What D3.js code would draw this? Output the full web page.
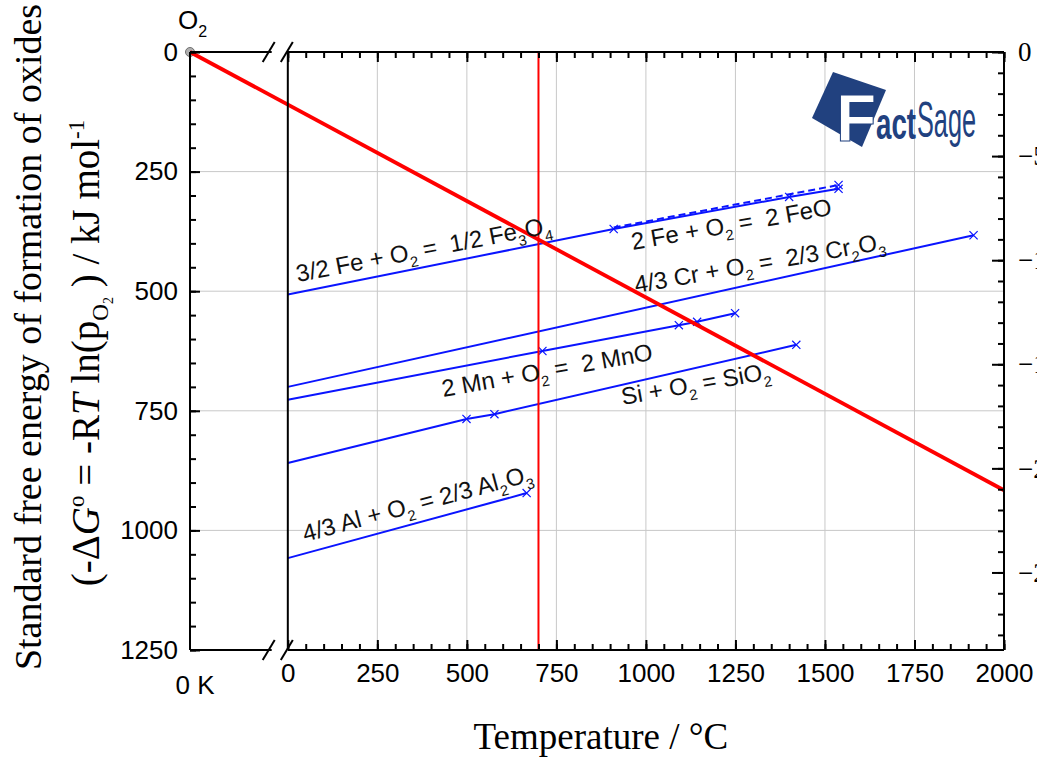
<!DOCTYPE html>
<html>
<head>
<meta charset="utf-8">
<script src="https://cdn.jsdelivr.net/npm/d3@7"></script>
<style>
  html, body { margin: 0; padding: 0; background: #fff; }
  svg { display: block; }
  text { white-space: pre; }
</style>
</head>
<body>
<svg id="chart" width="1037" height="757"></svg>
<script>
// ---------------- data ----------------
const tempTicks = [0, 250, 500, 750, 1000, 1250, 1500, 1750, 2000];
const energyTicks = [0, 250, 500, 750, 1000, 1250];
const pO2Ticks = [0, -5, -10, -15, -20, -25];

// -ΔG° (kJ/mol O2) vs temperature (°C)
const fe3o4T = [0, 910, 1400, 1538];
const fe3o4G = [507, 370, 303, 286];
const feoT = [910, 1538];
const feoG = [367, 278];
const cr2o3T = [0, 1915];
const cr2o3G = [700, 383];
const mnoT = [0, 711, 1092, 1143, 1249];
const mnoG = [727, 625, 571, 564, 546];
const sio2T = [0, 499, 577, 1420];
const sio2G = [859, 767, 757, 612];
const al2o3T = [0, 667];
const al2o3G = [1058, 922];

// oxygen potential line (-RT ln pO2) starting at O2, 0 K
const o2LineT = [-273.15, 2000];
const o2LineG = [0, 916];
const isothermT = 700;

const reactionLabels = [
  "3/2 Fe + O_2 =  1/2 Fe_3O_4",
  "2 Fe + O_2 =  2 FeO",
  "4/3 Cr + O_2 =  2/3 Cr_2O_3",
  "2 Mn + O_2 =  2 MnO",
  "Si + O_2 = SiO_2",
  "4/3 Al + O_2 = 2/3 Al_2O_3"
];
// label anchors in data units (°C, kJ/mol) and rotation
const labelT = [28, 963, 972, 434, 935, 48];
const labelG = [481, 414, 504, 721, 738, 1024];
const labelAngle = [-11, -10, -10, -10, -10, -15];

// ---------------- chart ----------------
const svg = d3.select("#chart");
const R = 8.314e-3;
const TK_right = 2273.15;

const x = d3.scaleLinear().domain([-273.15, 2000]).range([190, 1004]);
const y = d3.scaleLinear().domain([0, 1250]).range([52, 650]);
const yR = d3.scaleLinear().domain([0, -1250 / (R * TK_right * Math.LN10)]).range([52, 650]);

const X0 = x(-273.15), X1 = x(2000), Y0 = y(0), Y1 = y(1250);
const breakT = -45; // end of left frame segment (°C)

const gridColor = "#c8c8c8";
const blue = "#0a14ff";
const sans = "'Liberation Sans', Arial, sans-serif";
const serif = "'Liberation Serif', 'Times New Roman', serif";

// grid
const grid = svg.append("g");
grid.selectAll("line.v").data(tempTicks.filter(t => t > 0 && t < 2000)).join("line")
  .attr("x1", d => x(d)).attr("x2", d => x(d)).attr("y1", Y0).attr("y2", Y1)
  .attr("stroke", gridColor).attr("stroke-width", 1);
grid.selectAll("line.h").data(energyTicks.filter(g => g > 0 && g < 1250)).join("line")
  .attr("x1", X0).attr("x2", X1).attr("y1", d => y(d)).attr("y2", d => y(d))
  .attr("stroke", gridColor).attr("stroke-width", 1);

// reaction lines
const series = [
  { T: fe3o4T, G: fe3o4G, marks: [1, 2, 3], dash: null },
  { T: feoT, G: feoG, marks: [1], dash: "7,4" },
  { T: cr2o3T, G: cr2o3G, marks: [1], dash: null },
  { T: mnoT, G: mnoG, marks: [1, 2, 3, 4], dash: null },
  { T: sio2T, G: sio2G, marks: [1, 2, 3], dash: null },
  { T: al2o3T, G: al2o3G, marks: [1], dash: null }
];
const line = d3.line().x(d => x(d[0])).y(d => y(d[1]));
const sym = d3.symbol().type(d3.symbolX).size(45);
series.forEach(s => {
  const pts = s.T.map((t, i) => [t, s.G[i]]);
  svg.append("path").attr("d", line(pts)).attr("fill", "none")
    .attr("stroke", blue).attr("stroke-width", 2)
    .attr("stroke-dasharray", s.dash);
  svg.selectAll(null).data(s.marks.map(i => pts[i])).join("path")
    .attr("d", sym).attr("transform", d => `translate(${x(d[0])},${y(d[1])})`)
    .attr("fill", "none").attr("stroke", blue).attr("stroke-width", 1.2);
});

// O2 point
svg.append("circle").attr("cx", x(o2LineT[0])).attr("cy", y(o2LineG[0])).attr("r", 4.5)
  .attr("fill", "#b0b0b0").attr("stroke", "#707070").attr("stroke-width", 1);

// red lines
svg.append("line").attr("x1", x(isothermT)).attr("x2", x(isothermT)).attr("y1", Y0).attr("y2", Y1)
  .attr("stroke", "#ff0000").attr("stroke-width", 2);
svg.append("path").attr("d", line(o2LineT.map((t, i) => [t, o2LineG[i]])))
  .attr("stroke", "#ff0000").attr("stroke-width", 3.8).attr("fill", "none");

// frame
const frame = svg.append("g").attr("stroke", "#000").attr("stroke-width", 2).attr("fill", "none");
[[X0, Y0, X0, Y1], [X1, Y0, X1, Y1], [x(0), Y0, x(0), Y1],
 [X0, Y0, x(breakT), Y0], [x(0), Y0, X1, Y0],
 [X0, Y1, x(breakT), Y1], [x(0), Y1, X1, Y1]].forEach(l =>
  frame.append("line").attr("x1", l[0]).attr("y1", l[1]).attr("x2", l[2]).attr("y2", l[3]));
// break marks
[Y0, Y1].forEach(yy => {
  [x(breakT) - 3, x(0) - 1].forEach(xc => {
    frame.append("line").attr("x1", xc - 6).attr("y1", yy + 10).attr("x2", xc + 6).attr("y2", yy - 10);
  });
});

function styleAxis(g) {
  g.select(".domain").remove();
  g.selectAll(".tick line").attr("stroke", "#000").attr("stroke-width", 2);
}

// left axis (energy)
svg.append("g").attr("transform", `translate(${X0},0)`)
  .call(d3.axisLeft(y).tickValues(d3.range(0, 1251, 50)).tickSizeInner(-6).tickSizeOuter(0).tickFormat(""))
  .call(styleAxis);
svg.append("g").attr("transform", `translate(${X0},0)`)
  .call(d3.axisLeft(y).tickValues(energyTicks).tickSizeInner(-10).tickSizeOuter(0).tickPadding(12).tickFormat(d3.format("d")))
  .call(styleAxis)
  .call(g => g.selectAll("text").attr("font-family", sans).attr("font-size", 26).attr("fill", "#000"));

// bottom axis (°C)
svg.append("g").attr("transform", `translate(0,${Y1})`)
  .call(d3.axisBottom(x).tickValues(d3.range(0, 2001, 50)).tickSizeInner(-6).tickSizeOuter(0).tickFormat(""))
  .call(styleAxis);
svg.append("g").attr("transform", `translate(0,${Y1})`)
  .call(d3.axisBottom(x).tickValues(tempTicks).tickSizeInner(-10).tickSizeOuter(0).tickPadding(14).tickFormat(d3.format("d")))
  .call(styleAxis)
  .call(g => g.selectAll("text").attr("font-family", sans).attr("font-size", 26).attr("fill", "#000"));
svg.append("text").attr("x", X0 + 5).attr("y", Y1 + 44).attr("text-anchor", "middle")
  .attr("font-family", sans).attr("font-size", 26).text("0 K");

// top axis
svg.append("g").attr("transform", `translate(0,${Y0})`)
  .call(d3.axisTop(x).tickValues(d3.range(0, 2001, 50)).tickSizeInner(-6).tickSizeOuter(0).tickFormat(""))
  .call(styleAxis);
svg.append("g").attr("transform", `translate(0,${Y0})`)
  .call(d3.axisTop(x).tickValues(tempTicks).tickSizeInner(-10).tickSizeOuter(0).tickFormat(""))
  .call(styleAxis);

// right axis (log pO2 at 2000 °C)
svg.append("g").attr("transform", `translate(${X1},0)`)
  .call(d3.axisRight(yR).tickValues(d3.range(0, -28.5, -1)).tickSizeInner(-6).tickSizeOuter(0).tickFormat(""))
  .call(styleAxis);
svg.append("g").attr("transform", `translate(${X1},0)`)
  .call(d3.axisRight(yR).tickValues(pO2Ticks).tickSizeInner(-12).tickSizeOuter(0).tickPadding(14).tickFormat(d3.format("d")))
  .call(styleAxis)
  .call(g => g.selectAll("text").attr("font-family", serif).attr("font-size", 27).attr("fill", "#000"));

// O2 label
const o2t = svg.append("text").attr("x", X0 - 12).attr("y", Y0 - 23)
  .attr("font-family", sans).attr("font-size", 26);
o2t.append("tspan").text("O");
o2t.append("tspan").attr("dy", 8).attr("font-size", 16).text("2");

// reaction labels with subscripts
function addFormula(txt, tx, ty, ang, size) {
  const t = svg.append("text").attr("font-family", sans).attr("font-size", size).attr("fill", "#111")
    .attr("transform", `translate(${tx},${ty}) rotate(${ang})`);
  const parts = txt.split(/_(\d)/);
  let sub = false;
  parts.forEach((p, i) => {
    if (p === "") return;
    const isSub = i % 2 === 1;
    const ts = t.append("tspan").text(p);
    if (isSub && !sub) { ts.attr("dy", size * 0.3).attr("font-size", size * 0.62); sub = true; }
    else if (isSub) { ts.attr("font-size", size * 0.62); }
    else if (!isSub && sub) { ts.attr("dy", -size * 0.3); sub = false; }
  });
}
reactionLabels.forEach((lab, i) => addFormula(lab, x(labelT[i]), y(labelG[i]), labelAngle[i], 24));

// axis titles
svg.append("text").attr("transform", `translate(41,${(Y0 + Y1) / 2 - 14}) rotate(-90)`)
  .attr("text-anchor", "middle").attr("font-family", serif).attr("font-size", 38)
  .text("Standard free energy of formation of oxides");
const yt2 = svg.append("text").attr("transform", `translate(99,${(Y0 + Y1) / 2 + 2}) rotate(-90)`)
  .attr("text-anchor", "middle").attr("font-family", serif).attr("font-size", 39);
yt2.append("tspan").text("(-Δ");
yt2.append("tspan").attr("font-style", "italic").text("G");
yt2.append("tspan").attr("dy", -15).attr("font-size", 23).text("o");
yt2.append("tspan").attr("dy", 15).text(" = -R");
yt2.append("tspan").attr("font-style", "italic").text("T");
yt2.append("tspan").text(" ln(p");
yt2.append("tspan").attr("dy", 9).attr("font-size", 23).text("O");
yt2.append("tspan").attr("dy", 5).attr("font-size", 14).text("2");
yt2.append("tspan").attr("dy", -14).text(" ) / kJ mol");
yt2.append("tspan").attr("dy", -15).attr("font-size", 23).text("-1");

svg.append("text").attr("x", (x(0) + X1) / 2 - 45).attr("y", 749).attr("text-anchor", "middle")
  .attr("font-family", serif).attr("font-size", 37).text("Temperature / °C");

// FactSage logo
const logo = svg.append("g");
logo.append("polygon").attr("points", "833,72 886,90 862,147 812,118").attr("fill", "#21417f");
logo.append("text").attr("x", 836).attr("y", 141).attr("font-family", sans).attr("font-weight", "bold")
  .attr("font-size", 66).attr("fill", "#ffffff").attr("stroke", "#21417f").attr("stroke-width", 1).text("F");
logo.append("text").attr("x", 876).attr("y", 139).attr("font-family", sans).attr("font-weight", "bold")
  .attr("font-size", 44).attr("fill", "#21417f").attr("textLength", 40).attr("lengthAdjust", "spacingAndGlyphs").text("act");
logo.append("text").attr("x", 917).attr("y", 137).attr("font-family", sans)
  .attr("font-size", 50).attr("fill", "#21417f").attr("textLength", 59).attr("lengthAdjust", "spacingAndGlyphs").text("Sage");
</script>
</body>
</html>
